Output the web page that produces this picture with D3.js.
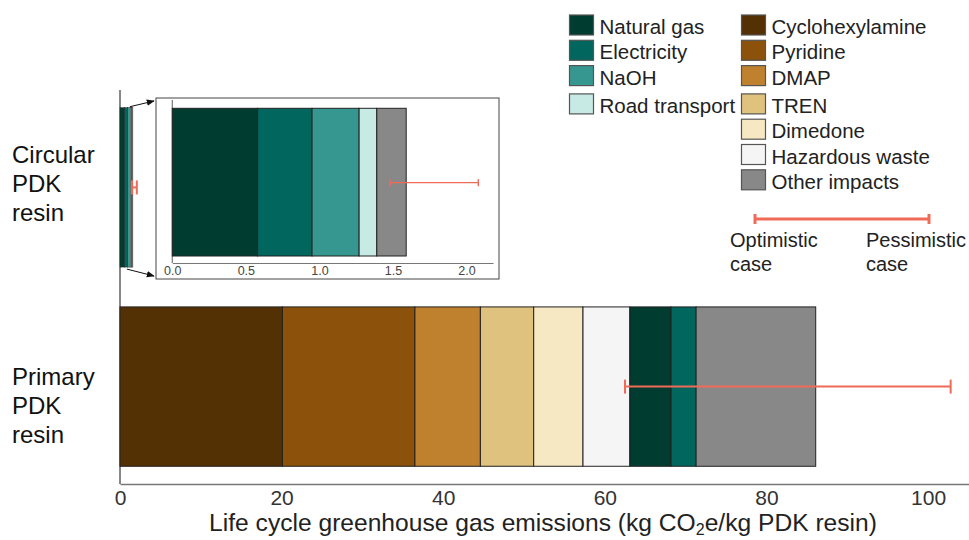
<!DOCTYPE html>
<html>
<head>
<meta charset="utf-8">
<script src="https://cdn.jsdelivr.net/npm/d3@7"></script>
<style>
  body { margin: 0; background: #fff; }
  svg { display: block; font-family: "Liberation Sans", Arial, sans-serif; }
</style>
</head>
<body>
<div id="chart"></div>
<script>
// data
const resins = ["Circular PDK resin", "Primary PDK resin"];
const resinLabels = [["Circular", "PDK", "resin"], ["Primary", "PDK", "resin"]];

const primaryParts = ["Cyclohexylamine", "Pyridine", "DMAP", "TREN", "Dimedone", "Hazardous waste", "Natural gas", "Electricity", "Other impacts"];
const primaryValues = [20.1, 16.4, 8.1, 6.6, 6.1, 5.8, 5.1, 3.1, 14.8];
const primaryRange = [62.5, 102.8];

const circularParts = ["Natural gas", "Electricity", "NaOH", "Road transport", "Other impacts"];
const circularValues = [0.58, 0.37, 0.32, 0.12, 0.20];
const circularRange = [1.48, 2.08];

const xTicks = [0, 20, 40, 60, 80, 100];
const insetTicks = [0, 0.5, 1.0, 1.5, 2.0];

const legendLeft = ["Natural gas", "Electricity", "NaOH", "Road transport"];
const legendRight = ["Cyclohexylamine", "Pyridine", "DMAP", "TREN", "Dimedone", "Hazardous waste", "Other impacts"];

const colors = {
  "Natural gas": "#003c30",
  "Electricity": "#01665e",
  "NaOH": "#35978f",
  "Road transport": "#c7eae5",
  "Cyclohexylamine": "#543005",
  "Pyridine": "#8c510a",
  "DMAP": "#bf812d",
  "TREN": "#dfc27d",
  "Dimedone": "#f6e8c3",
  "Hazardous waste": "#f5f5f5",
  "Other impacts": "#888888"
};
const errColor = "#f06a58";

const W = 969, H = 540;

const svg = d3.select("#chart").append("svg")
  .attr("width", W).attr("height", H);

// stacking helper
const stackUp = (parts, values) => {
  let acc = 0;
  return parts.map((p, i) => {
    const d = { name: p, x0: acc, x1: acc + values[i] };
    acc += values[i];
    return d;
  });
};

// main scales
const x = d3.scaleLinear().domain([0, 105.07]).range([120, 969]);
const y = d3.scaleBand().domain(resins).range([90, 484])
  .paddingInner(0.2).paddingOuter(0.089);

// y axis line
svg.append("line")
  .attr("x1", x(0)).attr("x2", x(0))
  .attr("y1", y.range()[0]).attr("y2", y.range()[1])
  .attr("stroke", "#111").attr("stroke-width", 1);

// x axis
const xAxis = svg.append("g")
  .attr("transform", `translate(0, ${y.range()[1]})`)
  .call(d3.axisBottom(x).tickValues(xTicks).tickSize(0).tickPadding(6).tickFormat(d3.format("d")));
xAxis.select(".domain").attr("stroke", "#777").attr("stroke-width", 1.6);
xAxis.selectAll("text").attr("font-size", 21).attr("fill", "#333")
  .attr("font-family", "Liberation Sans, Arial, sans-serif");

// axis title
const title = svg.append("text")
  .attr("x", 543).attr("y", 531)
  .attr("text-anchor", "middle")
  .attr("font-size", 24.6).attr("fill", "#222");
title.append("tspan").text("Life cycle greenhouse gas emissions (kg CO");
title.append("tspan").attr("font-size", 16).attr("dy", 4).text("2");
title.append("tspan").attr("dy", -4).text("e/kg PDK resin)");

// category labels (first baseline of each block)
const labelTop = [163, 385];
resins.forEach((r, i) => {
  const t = svg.append("text")
    .attr("x", 12)
    .attr("y", labelTop[i])
    .attr("font-size", 24).attr("fill", "#111");
  resinLabels[i].forEach((l, j) => {
    t.append("tspan").attr("x", 12).attr("dy", j === 0 ? 0 : 29).text(l);
  });
});

// bars
const drawStack = (g, parts, scale, yTop, h, sw) => {
  g.selectAll(null)
    .data(parts).enter()
    .append("rect")
    .attr("x", d => scale(d.x0))
    .attr("width", d => scale(d.x1) - scale(d.x0))
    .attr("y", yTop).attr("height", h)
    .attr("fill", d => colors[d.name])
    .attr("stroke", "#222").attr("stroke-width", sw);
};

const drawErr = (g, range, scale, yc, capH, sw) => {
  g.append("line")
    .attr("x1", scale(range[0])).attr("x2", scale(range[1]))
    .attr("y1", yc).attr("y2", yc)
    .attr("stroke", errColor).attr("stroke-width", sw);
  range.forEach(v => {
    g.append("line")
      .attr("x1", scale(v)).attr("x2", scale(v))
      .attr("y1", yc - capH / 2).attr("y2", yc + capH / 2)
      .attr("stroke", errColor).attr("stroke-width", sw);
  });
};

const primaryStack = stackUp(primaryParts, primaryValues);
const circularStack = stackUp(circularParts, circularValues);

drawStack(svg.append("g"), primaryStack, x, y(resins[1]), y.bandwidth(), 1);
drawStack(svg.append("g"), circularStack, x, y(resins[0]), y.bandwidth(), 0.5);
drawErr(svg, primaryRange, x, y(resins[1]) + y.bandwidth() / 2, 14, 2);
drawErr(svg, circularRange, x, y(resins[0]) + y.bandwidth() / 2, 14, 2);

// inset
const box = { x: 156, y: 98, w: 343, h: 181 };
svg.append("rect")
  .attr("x", box.x).attr("y", box.y).attr("width", box.w).attr("height", box.h)
  .attr("fill", "#fff").attr("stroke", "#444").attr("stroke-width", 1);

const ix = d3.scaleLinear().domain([0, 2.18]).range([172.3, 493]);
const iyTop = 108.3, iyBot = 256, iAxisY = 263;

const inset = svg.append("g");
inset.append("line")
  .attr("x1", ix(0)).attr("x2", ix(0)).attr("y1", 100).attr("y2", iAxisY)
  .attr("stroke", "#777").attr("stroke-width", 1.2);
const iAxis = inset.append("g")
  .attr("transform", `translate(0, ${iAxisY})`)
  .call(d3.axisBottom(ix).tickValues(insetTicks).tickSize(0).tickPadding(3).tickFormat(d3.format(".1f")));
iAxis.select(".domain").attr("stroke", "#777").attr("stroke-width", 1.2);
iAxis.selectAll("text").attr("font-size", 12.5).attr("fill", "#444")
  .attr("font-family", "Liberation Sans, Arial, sans-serif");

drawStack(inset, circularStack, ix, iyTop, iyBot - iyTop, 1);
drawErr(inset, circularRange, ix, (iyTop + iyBot) / 2 + 0.5, 7, 1.4);

// zoom arrows
const defs = svg.append("defs");
defs.append("marker")
  .attr("id", "arr").attr("viewBox", "0 0 10 10")
  .attr("refX", 9).attr("refY", 5)
  .attr("markerWidth", 8).attr("markerHeight", 8)
  .attr("orient", "auto")
  .append("path").attr("d", "M0,1 L10,5 L0,9 Z").attr("fill", "#111");

const cTot = d3.sum(circularValues);
svg.append("line")
  .attr("x1", x(cTot) - 3).attr("y1", y(resins[0]) - 1)
  .attr("x2", box.x - 2).attr("y2", box.y + 3)
  .attr("stroke", "#111").attr("stroke-width", 1).attr("marker-end", "url(#arr)");
svg.append("line")
  .attr("x1", x(cTot) - 6).attr("y1", y(resins[0]) + y.bandwidth() + 2)
  .attr("x2", box.x - 2).attr("y2", box.y + box.h - 3)
  .attr("stroke", "#111").attr("stroke-width", 1).attr("marker-end", "url(#arr)");

// legend
const legY = i => 15 + i * 25.3 + (i >= 3 ? 3 : 0);
const drawLegend = (items, sx) => {
  const g = svg.append("g");
  items.forEach((name, i) => {
    g.append("rect")
      .attr("x", sx).attr("y", legY(i))
      .attr("width", 24).attr("height", 20)
      .attr("fill", colors[name]).attr("stroke", "#555").attr("stroke-width", 1.2);
    g.append("text")
      .attr("x", sx + 30).attr("y", legY(i) + 19)
      .attr("font-size", 20.5).attr("fill", "#222")
      .text(name);
  });
};
drawLegend(legendLeft, 569.5);
drawLegend(legendRight, 741.5);

// error legend
const el = svg.append("g");
el.append("line").attr("x1", 755).attr("x2", 929).attr("y1", 219).attr("y2", 219)
  .attr("stroke", errColor).attr("stroke-width", 3);
[755, 929].forEach(v => {
  el.append("line").attr("x1", v).attr("x2", v).attr("y1", 214).attr("y2", 224)
    .attr("stroke", errColor).attr("stroke-width", 3);
});
[["Optimistic", "case", 730], ["Pessimistic", "case", 866]].forEach(d => {
  const t = el.append("text").attr("x", d[2]).attr("y", 247)
    .attr("font-size", 20).attr("fill", "#222");
  t.append("tspan").attr("x", d[2]).text(d[0]);
  t.append("tspan").attr("x", d[2]).attr("dy", 24).text(d[1]);
});
</script>
</body>
</html>
